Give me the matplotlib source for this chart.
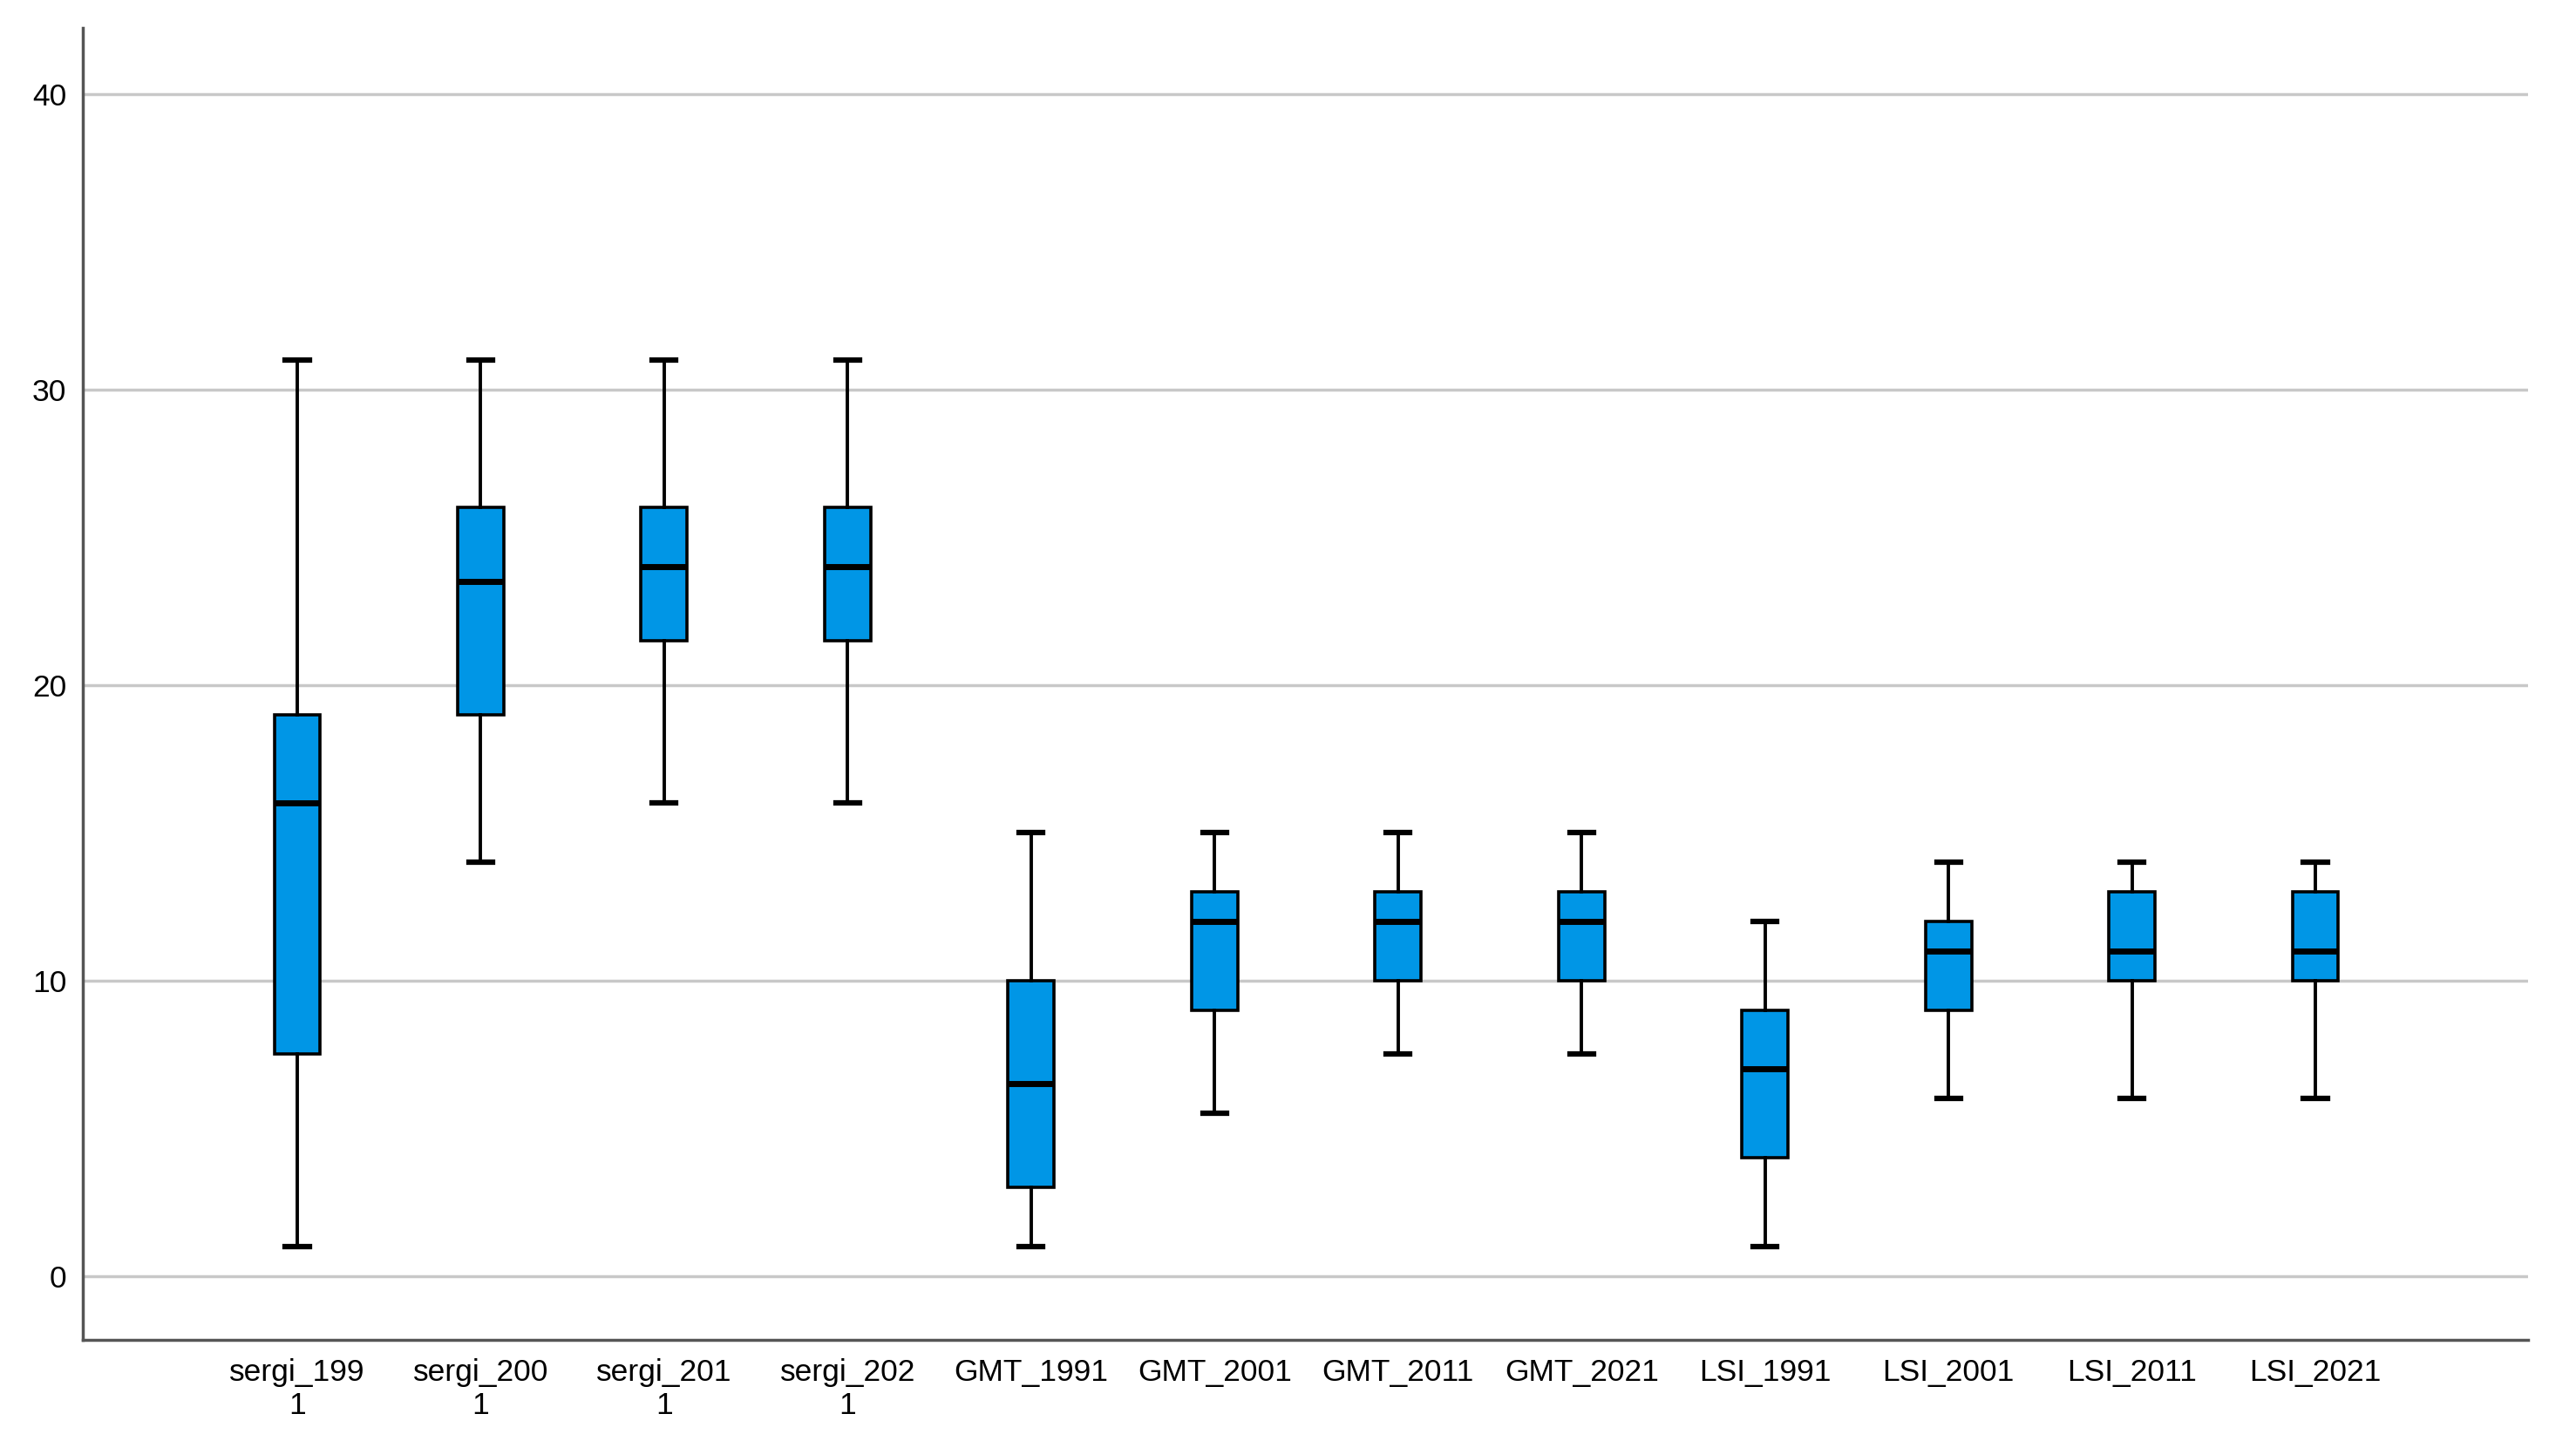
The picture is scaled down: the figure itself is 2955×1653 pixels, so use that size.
import numpy as np
import matplotlib.pyplot as plt

labels = ['sergi_199\n1', 'sergi_200\n1', 'sergi_201\n1', 'sergi_202\n1',
          'GMT_1991', 'GMT_2001', 'GMT_2011', 'GMT_2021',
          'LSI_1991', 'LSI_2001', 'LSI_2011', 'LSI_2021']
whislo = [1, 14, 16, 16, 1, 5.5, 7.5, 7.5, 1, 6, 6, 6]
q1 = [7.5, 19, 21.5, 21.5, 3, 9, 10, 10, 4, 9, 10, 10]
med = [16, 23.5, 24, 24, 6.5, 12, 12, 12, 7, 11, 11, 11]
q3 = [19, 26, 26, 26, 10, 13, 13, 13, 9, 12, 13, 13]
whishi = [31, 31, 31, 31, 15, 15, 15, 15, 12, 14, 14, 14]
yticks = [0, 10, 20, 30, 40]

plt.rcParams['font.family'] = ['Liberation Sans', 'DejaVu Sans']

fig = plt.figure(figsize=(29.55, 16.53), dpi=100)
ax = fig.add_axes([0.032, 0.070, 0.9495, 0.9106])

stats = []
for i in range(len(labels)):
    stats.append({'label': labels[i], 'whislo': whislo[i], 'q1': q1[i],
                  'med': med[i], 'q3': q3[i], 'whishi': whishi[i], 'fliers': []})

ax.bxp(stats, positions=np.arange(len(labels)), widths=0.25, patch_artist=True,
       showfliers=False, capwidths=0.13,
       boxprops=dict(facecolor='#0096e6', edgecolor='black', linewidth=2.6),
       medianprops=dict(color='black', linewidth=5),
       whiskerprops=dict(color='black', linewidth=2.8),
       capprops=dict(color='black', linewidth=4.5), zorder=3)

ax.set_xlim(-1.17, 12.16)
ax.set_ylim(-2.17, 42.23)
ax.set_yticks(yticks)
ax.yaxis.grid(True, color='#c8c8c8', linewidth=2.5, zorder=0)
ax.set_axisbelow(True)

for s in ['top', 'right']:
    ax.spines[s].set_visible(False)
for s in ['left', 'bottom']:
    ax.spines[s].set_color('#555555')
    ax.spines[s].set_linewidth(2.5)

ax.tick_params(axis='both', length=0, labelsize=25.5, colors='black')
ax.tick_params(axis='x', pad=15)
ax.tick_params(axis='y', pad=13)

fig.savefig('out.png', dpi=100, facecolor='white')
